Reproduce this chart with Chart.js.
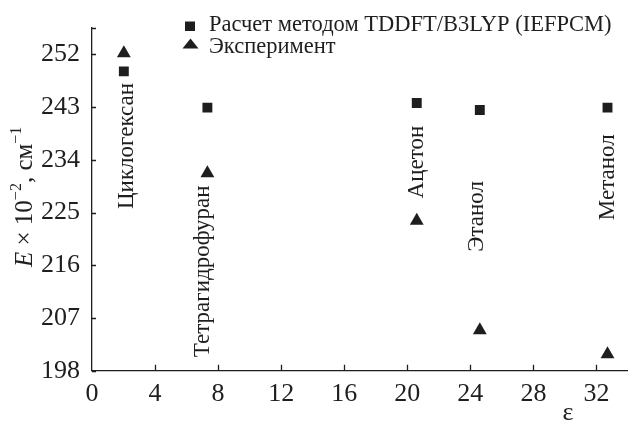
<!DOCTYPE html>
<html>
<head>
<meta charset="utf-8">
<script src="https://cdn.jsdelivr.net/npm/chart.js@4"></script>
<style>
html,body{margin:0;padding:0;background:#fff;}
#wrap{width:628px;height:423px;}
</style>
</head>
<body>
<div id="wrap"><canvas id="c" width="628" height="423"></canvas></div>
<script>
// ---- data ----
const solvents = ['Циклогексан', 'Тетрагидрофуран', 'Ацетон', 'Этанол', 'Метанол'];
const epsilon = [2.02, 7.32, 20.6, 24.6, 32.7];
const calcE = [249.1, 242.9, 243.7, 242.5, 242.9];
const expE = [252.2, 231.7, 223.6, 204.9, 200.8];
const seriesNames = ['Расчет методом TDDFT/B3LYP (IEFPCM)', 'Эксперимент'];
const yTicks = [198, 207, 216, 225, 234, 243, 252];
const xTicks = [0, 4, 8, 12, 16, 20, 24, 28, 32];

// label anchors (baseline x in ε units, start y in E units)
const labelX = [2.6, 7.43, 21.0, 24.8, 33.1];
const labelY = [225.6, 200.3, 227.4, 218.3, 223.7];

const INK = '#1e1e1e';
const FONT = "'Liberation Serif', 'Times New Roman', serif";

const decor = {
  id: 'decor',
  afterDraw(chart) {
    const ctx = chart.ctx;
    const xs = chart.scales.x, ys = chart.scales.y;
    const ca = chart.chartArea;
    ctx.save();
    ctx.strokeStyle = INK;
    ctx.lineWidth = 1.3;
    // inward ticks
    ctx.beginPath();
    yTicks.concat([ys.max]).forEach(v => {
      const p = Math.round(ys.getPixelForValue(v)) + 0.5;
      ctx.moveTo(ca.left, p); ctx.lineTo(ca.left + 4, p);
    });
    xTicks.forEach(v => {
      if (v === 0) return;
      const p = Math.round(xs.getPixelForValue(v)) + 0.5;
      ctx.moveTo(p, ca.bottom); ctx.lineTo(p, ca.bottom - 6);
    });
    ctx.stroke();

    // solvent labels
    ctx.fillStyle = INK;
    ctx.font = "23px " + FONT;
    ctx.textAlign = 'left';
    ctx.textBaseline = 'alphabetic';
    solvents.forEach((s, i) => {
      const px = xs.getPixelForValue(labelX[i]);
      const py = ys.getPixelForValue(labelY[i]);
      ctx.save();
      ctx.translate(px, py);
      ctx.rotate(-Math.PI / 2);
      ctx.fillText(s, 0, 0);
      ctx.restore();
    });

    // legend
    ctx.font = "22.5px " + FONT;
    ctx.fillRect(185, 21.5, 10, 9.5);
    ctx.fillText(seriesNames[0], 209, 30.5);
    ctx.beginPath();
    ctx.moveTo(190.5, 38.5); ctx.lineTo(198.5, 48.5); ctx.lineTo(182.5, 48.5); ctx.closePath();
    ctx.fill();
    ctx.fillText(seriesNames[1], 209, 52.5);

    // y axis title
    ctx.save();
    ctx.translate(32, 267);
    ctx.rotate(-Math.PI / 2);
    let x = 0;
    const part = (t, f, dy) => { ctx.font = f; ctx.fillText(t, x, dy); x += ctx.measureText(t).width; };
    part('E', "italic 25px " + FONT, 0);
    part(' × 10', "25px " + FONT, 0);
    part('−2', "16px " + FONT, -11);
    part(', см', "25px " + FONT, 0);
    part('−1', "16px " + FONT, -11);
    ctx.restore();

    // x axis title
    ctx.font = "26px " + FONT;
    ctx.textAlign = 'center';
    ctx.fillText('ε', 568, 420);
    ctx.restore();
  }
};

new Chart(document.getElementById('c'), {
  type: 'scatter',
  data: {
    datasets: [
      {
        label: seriesNames[0],
        data: epsilon.map((e, i) => ({x: e, y: calcE[i]})),
        pointStyle: 'rect', pointRadius: 7, pointHoverRadius: 7,
        backgroundColor: INK, borderColor: INK, borderWidth: 0
      },
      {
        label: seriesNames[1],
        data: epsilon.map((e, i) => ({x: e, y: expE[i]})),
        pointStyle: 'triangle', pointRadius: 8, pointHoverRadius: 8,
        backgroundColor: INK, borderColor: INK, borderWidth: 0
      }
    ]
  },
  options: {
    responsive: false,
    animation: false,
    events: [],
    layout: { autoPadding: false, padding: { top: 28, right: 0, left: 0, bottom: 0 } },
    plugins: { legend: { display: false }, tooltip: { enabled: false } },
    scales: {
      x: {
        type: 'linear', min: 0, max: 34,
        afterFit(s) { s.height = 52.3; s.paddingRight = 0; s.paddingLeft = 0; },
        afterBuildTicks(s) { s.ticks = xTicks.map(v => ({value: v})); },
        grid: { display: false, drawTicks: false },
        border: { display: true, color: INK, width: 1.3 },
        ticks: { color: INK, font: { family: FONT, size: 26 }, padding: 8, maxRotation: 0 }
      },
      y: {
        type: 'linear', min: 198, max: 256.5,
        afterFit(s) { s.width = 92; s.paddingTop = 0; s.paddingBottom = 0; },
        afterBuildTicks(s) { s.ticks = yTicks.map(v => ({value: v})); },
        grid: { display: false, drawTicks: false },
        border: { display: true, color: INK, width: 1.3 },
        ticks: { color: INK, font: { family: FONT, size: 26 }, padding: 12 }
      }
    }
  },
  plugins: [decor]
});
</script>
</body>
</html>
